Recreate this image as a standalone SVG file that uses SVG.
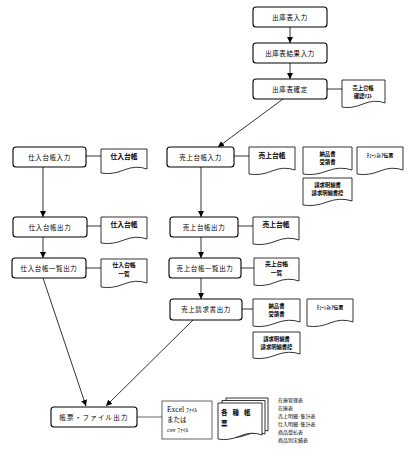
<svg xmlns="http://www.w3.org/2000/svg" width="413" height="456" viewBox="0 0 413 456">
<defs>
<style>
.box{fill:#fff;stroke:#000;stroke-width:1.1}
.doc{fill:#fff;stroke:#000;stroke-width:0.8}
.lbl{font-family:"Noto Sans CJK JP","Noto Sans",sans-serif;font-size:6.5px;fill:#000;text-anchor:middle;letter-spacing:0.6px}
.dt{font-family:"Noto Sans CJK JP","Noto Sans",sans-serif;font-size:6px;fill:#000;text-anchor:middle;font-weight:bold}
.d2{font-family:"Noto Sans CJK JP","Noto Sans",sans-serif;font-size:5.3px;fill:#000;text-anchor:middle;font-weight:bold}
.sm{font-family:"Noto Sans CJK JP","Noto Sans",sans-serif;font-size:5px;fill:#000}
.ser{font-family:"Liberation Serif","Noto Sans CJK JP",serif;font-size:7px;fill:#000}
.c{stroke:#000;stroke-width:0.8;fill:none}
.cg{stroke:#666;stroke-width:1;fill:none}
</style>
<marker id="ah" viewBox="0 0 10 10" refX="10" refY="5" markerWidth="6" markerHeight="6" orient="auto" markerUnits="userSpaceOnUse">
<path d="M0,0 L10,5 L0,10 Z" fill="#000"/>
</marker>
</defs>
<rect width="413" height="456" fill="#fff"/>

<g id="connectors">
<line class="c" x1="290" y1="27" x2="290" y2="43" marker-end="url(#ah)"/>
<line class="c" x1="290" y1="63" x2="290" y2="79" marker-end="url(#ah)"/>
<line class="c" x1="327" y1="89" x2="342" y2="89"/>
<line class="c" x1="283" y1="99" x2="218" y2="147" marker-end="url(#ah)"/>
<line class="c" x1="86" y1="156" x2="101" y2="156"/>
<line class="c" x1="234" y1="156" x2="249" y2="156"/>
<line class="c" x1="43" y1="167" x2="43" y2="217" marker-end="url(#ah)"/>
<line class="c" x1="201" y1="167" x2="201" y2="217" marker-end="url(#ah)"/>
<line class="c" x1="87" y1="226" x2="101" y2="226"/>
<line class="c" x1="238" y1="226" x2="253" y2="226"/>
<line class="c" x1="43" y1="237" x2="43" y2="258" marker-end="url(#ah)"/>
<line class="c" x1="201" y1="237" x2="201" y2="258" marker-end="url(#ah)"/>
<line class="c" x1="86" y1="268" x2="101" y2="268"/>
<line class="c" x1="241" y1="268" x2="254" y2="268"/>
<line class="c" x1="201" y1="278" x2="201" y2="299" marker-end="url(#ah)"/>
<line class="c" x1="242" y1="309" x2="253" y2="309"/>
<line class="c" x1="43" y1="278" x2="86" y2="406" marker-end="url(#ah)"/>
<line class="c" x1="193" y1="320" x2="106" y2="406" marker-end="url(#ah)"/>
<line class="cg" x1="137" y1="417" x2="162" y2="417"/>
</g>

<g id="n1"><rect class="box" x="253" y="7" width="74" height="20" rx="3"/><text class="lbl" x="290" y="19.5">出庫表入力</text></g>
<g id="n2"><rect class="box" x="253" y="43" width="74" height="20" rx="3"/><text class="lbl" x="290" y="55.5">出庫表結果入力</text></g>
<g id="n3"><rect class="box" x="253" y="79" width="74" height="20" rx="3"/><text class="lbl" x="290" y="91.5">出庫表確定</text></g>
<g id="d1"><path class="doc" d="M342,80 H385 V103 Q375,99 363,104 T342,107 Z"/><text class="d2" x="363" y="90">売上台帳</text><text class="d2" x="363" y="98">確認ﾘｽﾄ</text></g>

<g id="n4"><rect class="box" x="13" y="147" width="73" height="20" rx="3"/><text class="lbl" x="49.5" y="159.5">仕入台帳入力</text></g>
<g id="d2"><path class="doc" d="M101,149 H147 V169 Q136,165 124,170 T101,173 Z"/><text class="dt" x="124" y="159" style="font-size:6.8px">仕入台帳</text></g>

<g id="n5"><rect class="box" x="167" y="147" width="67" height="20" rx="3"/><text class="lbl" x="200.5" y="159.5">売上台帳入力</text></g>
<g id="d3"><path class="doc" d="M249,147 H295 V170 Q284,166 272,171 T249,174 Z"/><text class="dt" x="272" y="157.5" style="font-size:6.8px">売上台帳</text></g>
<g id="d4"><path class="doc" d="M303,147 H352 V170 Q340,166 327,171 T303,174 Z"/><text class="d2" x="327.5" y="156">納品書</text><text class="d2" x="327.5" y="164">受領書</text></g>
<g id="d5"><path class="doc" d="M357,147 H403 V170 Q392,166 380,171 T357,174 Z"/><text class="dt" x="380" y="157" style="font-size:4.8px">ﾁｪｰﾝｽﾄｱ伝票</text></g>
<g id="d6"><path class="doc" d="M303,178 H352 V201 Q340,197 327,202 T303,205 Z"/><text class="d2" x="327.5" y="187">請求明細書</text><text class="d2" x="327.5" y="195">請求明細書控</text></g>

<g id="n6"><rect class="box" x="13" y="217" width="74" height="20" rx="3"/><text class="lbl" x="50" y="229.5">仕入台帳出力</text></g>
<g id="d7"><path class="doc" d="M101,217 H147 V239 Q136,235 124,240 T101,243 Z"/><text class="dt" x="124" y="227" style="font-size:6.8px">仕入台帳</text></g>

<g id="n7"><rect class="box" x="12" y="258" width="74" height="20" rx="3"/><text class="lbl" x="49" y="270.5">仕入台帳一覧出力</text></g>
<g id="d8"><path class="doc" d="M101,259 H147 V283 Q136,279 124,284 T101,287 Z"/><text class="d2" x="124" y="267" style="font-size:5.8px">仕入台帳</text><text class="d2" x="124" y="276" style="font-size:5.8px">一覧</text></g>

<g id="n8"><rect class="box" x="170" y="217" width="68" height="20" rx="3"/><text class="lbl" x="204" y="229.5">売上台帳出力</text></g>
<g id="d9"><path class="doc" d="M253,217 H299 V240 Q288,236 276,241 T253,244 Z"/><text class="dt" x="276" y="227" style="font-size:6.8px">売上台帳</text></g>

<g id="n9"><rect class="box" x="169" y="258" width="72" height="20" rx="3"/><text class="lbl" x="205" y="270.5">売上台帳一覧出力</text></g>
<g id="d10"><path class="doc" d="M254,258 H299 V281 Q288,277 276,282 T254,285 Z"/><text class="d2" x="276.5" y="266" style="font-size:5.8px">売上台帳</text><text class="d2" x="276.5" y="275" style="font-size:5.8px">一覧</text></g>

<g id="n10"><rect class="box" x="170" y="299" width="72" height="21" rx="3"/><text class="lbl" x="206" y="312">売上請求書出力</text></g>
<g id="d11"><path class="doc" d="M253,299 H300 V322 Q289,318 276,323 T253,326 Z"/><text class="d2" x="276.5" y="308">納品書</text><text class="d2" x="276.5" y="316">受領書</text></g>
<g id="d12"><path class="doc" d="M307,299 H353 V322 Q342,318 330,323 T307,326 Z"/><text class="dt" x="330" y="309" style="font-size:4.8px">ﾁｪｰﾝｽﾄｱ伝票</text></g>
<g id="d13"><path class="doc" d="M253,332 H300 V354 Q289,350 276,355 T253,358 Z"/><text class="d2" x="276.5" y="341">請求明細書</text><text class="d2" x="276.5" y="349">請求明細書控</text></g>

<g id="n11"><rect class="box" x="51" y="407" width="86" height="20" rx="3"/><text class="lbl" x="94" y="419.5" style="letter-spacing:1.2px">帳票・ファイル出力</text></g>
<g id="f1"><rect x="162" y="401" width="50" height="38" fill="#fff" stroke="#555" stroke-width="0.9"/>
<text class="ser" x="167" y="412" style="font-size:7.5px">Excel <tspan style="font-size:5.5px">ﾌｧｲﾙ</tspan></text>
<text class="ser" x="167" y="422" style="font-size:6.5px">または</text>
<text class="ser" x="167" y="432" style="font-size:6.5px">csv <tspan style="font-size:5.5px">ﾌｧｲﾙ</tspan></text></g>
<g id="f2">
<path class="doc" d="M226,398 H268 V431 Q260,428 250,432 T226,434 Z"/>
<path class="doc" d="M222,400.5 H265 V434 Q256,431 246,435 T222,437 Z"/>
<path class="doc" d="M218,403 H262 V435 Q252,431 240,436 T218,439 Z"/>
<text class="dt" x="221" y="415" style="text-anchor:start;font-size:6.5px;letter-spacing:5px">各種帳</text>
<text class="dt" x="221" y="426" style="text-anchor:start;font-size:6.5px">票</text>
</g>
<g id="t1">
<text class="sm" x="278" y="402">在庫管理表</text>
<text class="sm" x="278" y="410">在庫表</text>
<text class="sm" x="278" y="418">売上明細･集計表</text>
<text class="sm" x="278" y="426">仕入明細･集計表</text>
<text class="sm" x="278" y="434">商品受払表</text>
<text class="sm" x="278" y="442">商品別実績表</text>
</g>
</svg>
